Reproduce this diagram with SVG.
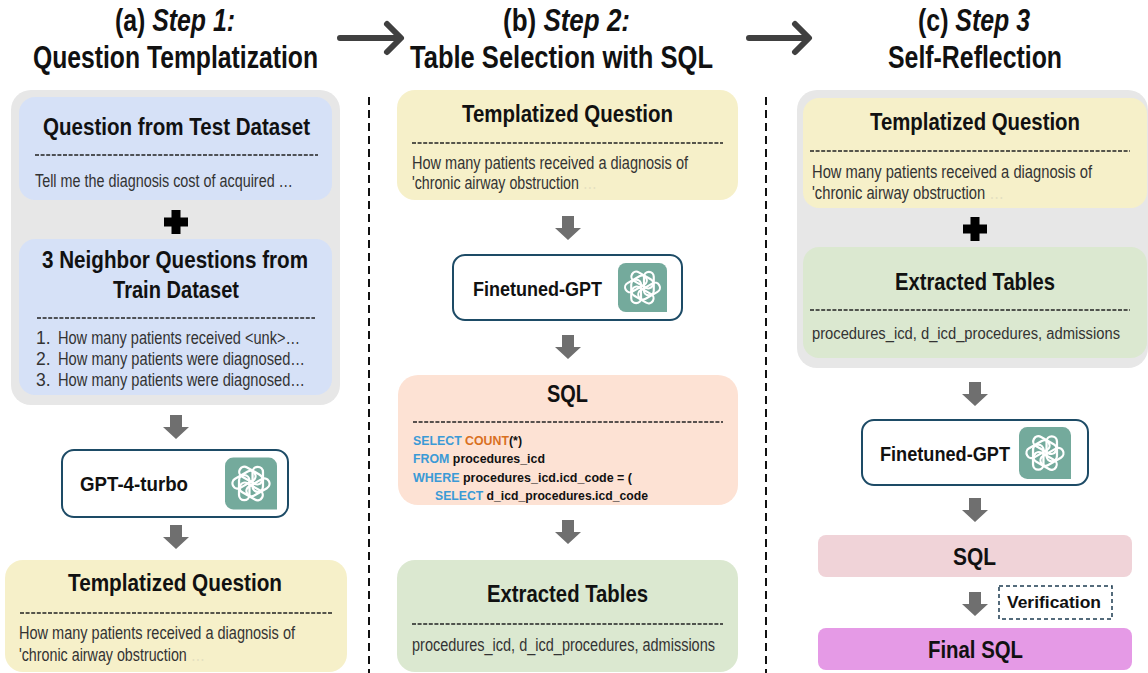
<svg xmlns="http://www.w3.org/2000/svg" xmlns:xlink="http://www.w3.org/1999/xlink" width="1148" height="673" viewBox="0 0 1148 673">
<style>
text{font-family:"Liberation Sans Narrow","Liberation Sans",Arial,sans-serif;fill:#111}
.head{font-size:31px;font-weight:bold}
.it{font-style:italic}
.ttl{font-size:24.5px;font-weight:bold}
.body{font-size:17.5px;fill:#333}
.faint{fill:#e4dfc0}
.code{font-size:13.5px;font-weight:bold}
.kw{fill:#3b9ad6}
.fn{fill:#d9701f}
.mdl{font-size:20px;font-weight:bold}
.sep{stroke:#222;stroke-width:1.5;stroke-dasharray:4 1.6;fill:none}
.vsep{stroke:#111;stroke-width:2;stroke-dasharray:8 5;fill:none}
.harr{stroke:#404040;stroke-width:6;fill:none;stroke-linecap:round;stroke-linejoin:round}
.mbox{fill:#fff;stroke:#1d4b66;stroke-width:2}
.gray{fill:#e7e7e7}
.blue{fill:#d6e1f7}
.yel{fill:#f6f0c9}
.peach{fill:#fde2d4}
.green{fill:#dbe8d0}
.pink{fill:#f0d3d8}
.mag{fill:#e59ae6}
.plus{fill:#000}
</style>
<defs>
<symbol id="gpt" viewBox="0 0 50 50">
<path d="M8,0 H42 A8,8 0 0 1 50,8 V50 H8 A8,8 0 0 1 0,42 V8 A8,8 0 0 1 8,0 Z" fill="#74aa9c"/>
<g transform="translate(25,25)" fill="none" stroke="#fff" stroke-width="2.2">
<rect x="1.5" y="-16" width="10" height="24" rx="5" transform="rotate(0)"/>
<rect x="1.5" y="-16" width="10" height="24" rx="5" transform="rotate(60)"/>
<rect x="1.5" y="-16" width="10" height="24" rx="5" transform="rotate(120)"/>
<rect x="1.5" y="-16" width="10" height="24" rx="5" transform="rotate(180)"/>
<rect x="1.5" y="-16" width="10" height="24" rx="5" transform="rotate(240)"/>
<rect x="1.5" y="-16" width="10" height="24" rx="5" transform="rotate(300)"/>
</g>
</symbol>
<polygon id="darr" points="-6,0 6,0 6,12 13,12 0,24 -13,12 -6,12" fill="#6f6f6f"/>
</defs>
<rect width="1148" height="673" fill="#fff"/>

<g id="headers">
<text class="head" x="115" y="31" textLength="120" lengthAdjust="spacingAndGlyphs">(a) <tspan class="it">Step 1:</tspan></text>
<text class="head" x="33" y="68" textLength="285" lengthAdjust="spacingAndGlyphs">Question Templatization</text>
<text class="head" x="503" y="31" textLength="127" lengthAdjust="spacingAndGlyphs">(b) <tspan class="it">Step 2:</tspan></text>
<text class="head" x="410" y="68" textLength="303" lengthAdjust="spacingAndGlyphs">Table Selection with SQL</text>
<text class="head" x="918" y="31" textLength="112" lengthAdjust="spacingAndGlyphs">(c) <tspan class="it">Step 3</tspan></text>
<text class="head" x="888" y="68" textLength="174" lengthAdjust="spacingAndGlyphs">Self-Reflection</text>
</g>

<g id="separators">
<line class="vsep" x1="369" y1="97" x2="369" y2="673"/>
<line class="vsep" x1="766" y1="97" x2="766" y2="673"/>
</g>

<g id="containers">
<rect class="gray" x="11" y="90" width="329" height="315" rx="20"/>
<rect class="gray" x="797" y="90" width="351" height="278" rx="20"/>
</g>

<g id="connectors">
<path class="harr" d="M340,38 H400 M387,24 L401,38 L387,52"/>
<path class="harr" d="M749,38 H808 M795,24 L809,38 L795,52"/>
<use href="#darr" x="176" y="415"/>
<use href="#darr" x="176" y="525"/>
<use href="#darr" x="568" y="216"/>
<use href="#darr" x="568" y="335"/>
<use href="#darr" x="568" y="520"/>
<use href="#darr" x="975" y="382"/>
<use href="#darr" x="975" y="498"/>
<use href="#darr" x="975" y="592"/>
<g id="plus-a" class="plus"><rect x="164" y="217.5" width="24" height="9"/><rect x="171.5" y="210" width="9" height="24"/></g>
<g id="plus-c" class="plus"><rect x="963" y="224.5" width="24" height="9"/><rect x="970.5" y="217" width="9" height="24"/></g>
</g>

<g id="test-question">
<rect class="blue" x="19" y="97" width="313" height="103" rx="16"/>
<text class="ttl" x="43" y="135" textLength="267" lengthAdjust="spacingAndGlyphs">Question from Test Dataset</text>
<line class="sep" x1="35" y1="155" x2="318" y2="155"/>
<text class="body" x="35" y="187" textLength="258" lengthAdjust="spacingAndGlyphs">Tell me the diagnosis cost of acquired …</text>
</g>

<g id="neighbor-questions">
<rect class="blue" x="19" y="239" width="313" height="156" rx="16"/>
<text class="ttl" x="42" y="268" textLength="266" lengthAdjust="spacingAndGlyphs">3 Neighbor Questions from</text>
<text class="ttl" x="113" y="298" textLength="126" lengthAdjust="spacingAndGlyphs">Train Dataset</text>
<line class="sep" x1="37" y1="318" x2="315" y2="318"/>
<text class="body" x="36" y="344">1.</text>
<text class="body" x="58" y="344" textLength="242" lengthAdjust="spacingAndGlyphs">How many patients received &lt;unk&gt;…</text>
<text class="body" x="36" y="365">2.</text>
<text class="body" x="58" y="365" textLength="247" lengthAdjust="spacingAndGlyphs">How many patients were diagnosed…</text>
<text class="body" x="36" y="386">3.</text>
<text class="body" x="58" y="386" textLength="247" lengthAdjust="spacingAndGlyphs">How many patients were diagnosed…</text>
</g>

<g id="gpt4-turbo">
<rect class="mbox" x="62" y="450" width="226" height="67" rx="12"/>
<text class="mdl" x="80" y="491" textLength="108" lengthAdjust="spacingAndGlyphs">GPT-4-turbo</text>
<use href="#gpt" x="225" y="457" width="52" height="53"/>
</g>

<g id="templatized-a">
<rect class="yel" x="5" y="560" width="342" height="112" rx="18"/>
<text class="ttl" x="68" y="591" textLength="214" lengthAdjust="spacingAndGlyphs">Templatized Question</text>
<line class="sep" x1="20" y1="613" x2="332" y2="613"/>
<text class="body" x="19" y="639" textLength="276" lengthAdjust="spacingAndGlyphs">How many patients received a diagnosis of</text>
<text class="body" x="19" y="661" textLength="186" lengthAdjust="spacingAndGlyphs">'chronic airway obstruction <tspan class="faint">…</tspan></text>
</g>

<g id="templatized-b">
<rect class="yel" x="397" y="90" width="341" height="110" rx="18"/>
<text class="ttl" x="462" y="122" textLength="211" lengthAdjust="spacingAndGlyphs">Templatized Question</text>
<line class="sep" x1="412" y1="143" x2="723" y2="143"/>
<text class="body" x="412" y="169" textLength="276" lengthAdjust="spacingAndGlyphs">How many patients received a diagnosis of</text>
<text class="body" x="412" y="189" textLength="185" lengthAdjust="spacingAndGlyphs">'chronic airway obstruction <tspan class="faint">…</tspan></text>
</g>

<g id="finetuned-b">
<rect class="mbox" x="453" y="255" width="229" height="65" rx="12"/>
<text class="mdl" x="473" y="296" textLength="129" lengthAdjust="spacingAndGlyphs">Finetuned-GPT</text>
<use href="#gpt" x="617" y="263" width="51" height="49"/>
</g>

<g id="sql-b">
<rect class="peach" x="398" y="375" width="340" height="130" rx="20"/>
<text class="ttl" x="547" y="402" textLength="41" lengthAdjust="spacingAndGlyphs">SQL</text>
<line class="sep" x1="413" y1="422" x2="723" y2="422"/>
<text class="code" x="413" y="445" textLength="109" lengthAdjust="spacingAndGlyphs"><tspan class="kw">SELECT </tspan><tspan class="fn">COUNT</tspan>(*)</text>
<text class="code" x="413" y="463" textLength="132" lengthAdjust="spacingAndGlyphs"><tspan class="kw">FROM </tspan>procedures_icd</text>
<text class="code" x="413" y="482" textLength="219" lengthAdjust="spacingAndGlyphs"><tspan class="kw">WHERE </tspan> procedures_icd.icd_code = (</text>
<text class="code" x="435" y="500" textLength="213" lengthAdjust="spacingAndGlyphs"><tspan class="kw">SELECT </tspan>d_icd_procedures.icd_code</text>
</g>

<g id="tables-b">
<rect class="green" x="397" y="560" width="341" height="112" rx="18"/>
<text class="ttl" x="487" y="602" textLength="161" lengthAdjust="spacingAndGlyphs">Extracted Tables</text>
<line class="sep" x1="412" y1="624" x2="723" y2="624"/>
<text class="body" x="412" y="651" textLength="303" lengthAdjust="spacingAndGlyphs">procedures_icd, d_icd_procedures, admissions</text>
</g>

<g id="templatized-c">
<rect class="yel" x="803" y="98" width="344" height="110" rx="16"/>
<text class="ttl" x="870" y="130" textLength="210" lengthAdjust="spacingAndGlyphs">Templatized Question</text>
<line class="sep" x1="810" y1="151" x2="1130" y2="151"/>
<text class="body" x="812" y="178" textLength="280" lengthAdjust="spacingAndGlyphs">How many patients received a diagnosis of</text>
<text class="body" x="812" y="199" textLength="192" lengthAdjust="spacingAndGlyphs">'chronic airway obstruction <tspan class="faint">…</tspan></text>
</g>

<g id="tables-c">
<rect class="green" x="803" y="247" width="344" height="111" rx="16"/>
<text class="ttl" x="895" y="290" textLength="160" lengthAdjust="spacingAndGlyphs">Extracted Tables</text>
<line class="sep" x1="810" y1="310" x2="1130" y2="310"/>
<text class="body" x="812" y="339" style="font-size:16px" textLength="308" lengthAdjust="spacingAndGlyphs">procedures_icd, d_icd_procedures, admissions</text>
</g>

<g id="finetuned-c">
<rect class="mbox" x="862" y="420" width="226" height="65" rx="12"/>
<text class="mdl" x="880" y="461" textLength="130" lengthAdjust="spacingAndGlyphs">Finetuned-GPT</text>
<use href="#gpt" x="1019" y="427" width="52" height="52"/>
</g>

<g id="sql-c">
<rect class="pink" x="818" y="535" width="314" height="42" rx="8"/>
<text class="ttl" x="953" y="565" textLength="43" lengthAdjust="spacingAndGlyphs">SQL</text>
</g>

<g id="verification">
<rect x="999" y="586" width="113" height="33" fill="#fff" stroke="#1d3b50" stroke-width="1.5" stroke-dasharray="4 3"/>
<text x="1007" y="608" style="font-size:16.5px;font-weight:bold" textLength="94" lengthAdjust="spacingAndGlyphs">Verification</text>
</g>

<g id="final-sql">
<rect class="mag" x="818" y="628" width="314" height="42" rx="8"/>
<text class="ttl" x="928" y="658" textLength="95" lengthAdjust="spacingAndGlyphs">Final SQL</text>
</g>
</svg>
